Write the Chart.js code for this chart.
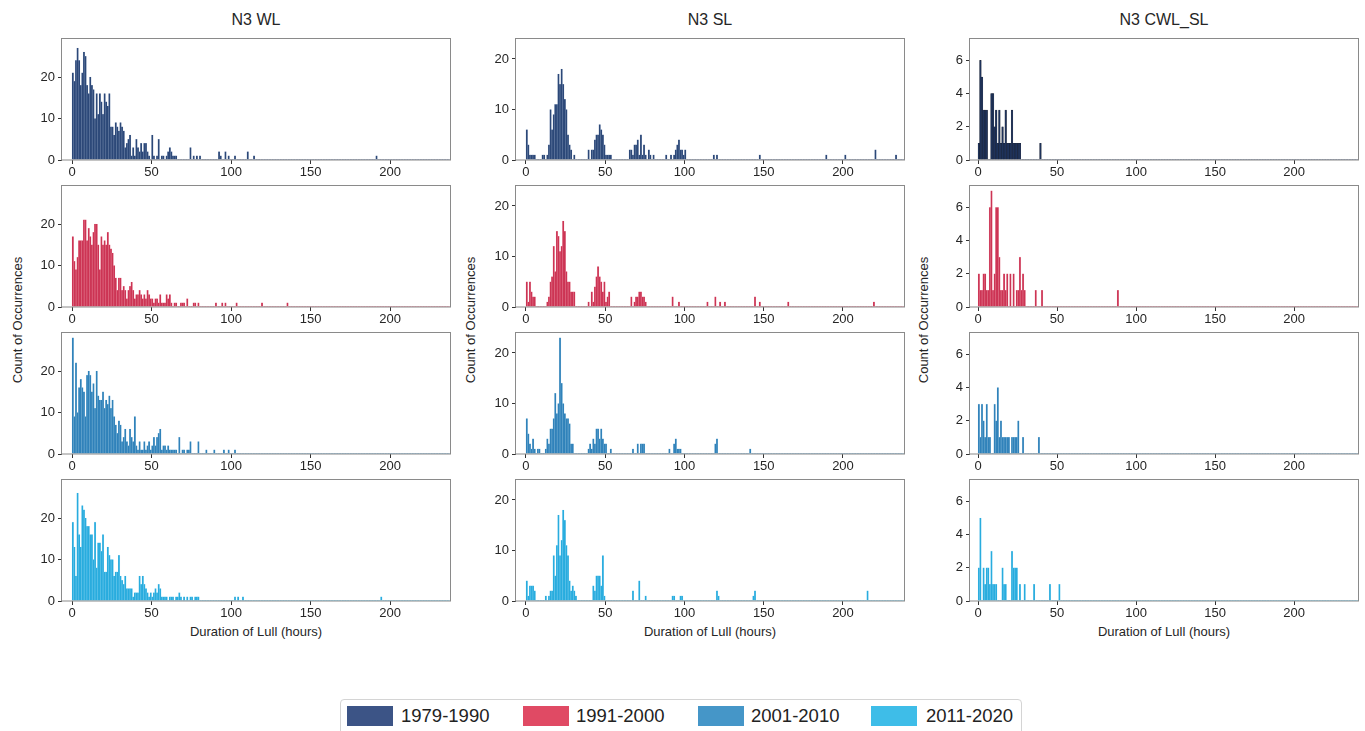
<!DOCTYPE html>
<html lang="en">
<head>
<meta charset="UTF-8">
<title>Lull durations N3</title>
<script src="https://cdn.jsdelivr.net/npm/chart.js@4"></script>
<style>
  body { margin: 0; background: #fff; font-family: "Liberation Sans", Arial, sans-serif; color: #262626; }
  #fig { position: relative; width: 1365px; height: 731px; overflow: hidden; }
  #fig canvas { position: absolute; }
  .title { position: absolute; top: 11px; width: 388px; text-align: center; font-size: 16px; }
  .xlabel { position: absolute; top: 624px; width: 388px; text-align: center; font-size: 13px; }
  .ylabel { position: absolute; top: 320px; font-size: 13px; white-space: nowrap; transform: translate(-50%, -50%) rotate(-90deg); }
  #legend { position: absolute; left: 340px; top: 699px; width: 682px; height: 44px; border: 1px solid #d4d4d4; border-radius: 4px; box-sizing: border-box; }
  #legend .sw { position: absolute; top: 6px; width: 46px; height: 20px; }
  #legend .lb { position: absolute; top: 5px; font-size: 18.5px; color: #222; }
</style>
</head>
<body>
<div id="fig">
  <div class="title" style="left:62px">N3 WL</div>
  <div class="title" style="left:516px">N3 SL</div>
  <div class="title" style="left:970px">N3 CWL_SL</div>
  <div class="ylabel" style="left:17px">Count of Occurrences</div>
  <div class="ylabel" style="left:470px">Count of Occurrences</div>
  <div class="ylabel" style="left:923px">Count of Occurrences</div>
  <div class="xlabel" style="left:62px">Duration of Lull (hours)</div>
  <div class="xlabel" style="left:516px">Duration of Lull (hours)</div>
  <div class="xlabel" style="left:970px">Duration of Lull (hours)</div>
  <div id="legend"></div>
</div>
<script>
// counts per 1-hour bin, starting at hour 0; tails are [hour, count]
const periods = ['1979-1990', '1991-2000', '2001-2010', '2011-2020'];

const wl1979 = [21,19,24,27,24,18,21,26,25,18, 16,20,18,17,10,16,11,16,14,11, 16,14,13,16,8,8,6,9,8,7,
  9,8,7,3,4,5,6,1,3,1, 5,3,2,4,2,4,4,2,1,0, 6,1,0,1,5,0,1,1,0,1, 2,3,2,1,1,1];
const wl1979Tail = [[74,3],[76,1],[78,1],[80,1],[92,2],[93,1],[96,2],[98,1],[102,1],[110,2],[114,1],[191,1]];
const wl1991 = [17,11,9,12,16,16,16,21,21,16, 19,17,15,18,20,20,15,9,17,15, 16,15,18,15,14,13,10,7,4,7,
  7,4,5,4,2,4,5,6,4,2, 3,3,4,3,2,3,2,4,3,2, 2,1,2,2,1,3,1,1,1,3, 2,3,1,0,1,1];
const wl1991Tail = [[68,1],[69,1],[70,1],[72,2],[76,1],[77,1],[79,1],[90,1],[94,1],[96,1],[103,1],[119,1],[135,1]];
const wl2001 = [28,9,22,10,16,18,16,15,9,19, 20,19,15,17,11,20,14,13,13,15, 11,13,12,14,11,13,9,7,5,8,
  7,3,4,6,3,2,6,4,3,9, 2,1,3,1,1,3,1,2,3,1, 2,4,2,4,5,6,1,2,2,1, 2,1,1,1,1,1];
const wl2001Tail = [[67,4],[69,1],[70,1],[72,1],[73,1],[74,3],[79,3],[84,1],[89,1],[95,1],[98,1],[102,1]];
const wl2011 = [19,13,6,26,16,13,23,22,20,18, 18,16,16,10,19,8,14,14,12,16, 7,7,13,11,10,10,6,7,7,11,
  6,5,4,6,3,3,3,3,1,2, 2,2,6,4,6,4,3,2,1,2, 1,2,3,2,4,3,1,1,1,1, 0,1,1,1,0,1,1,2,1,0, 1];
const wl2011Tail = [[72,1],[74,1],[75,1],[77,1],[78,1],[79,1],[102,1],[104,1],[107,1],[194,1]];

const sl1979 = [6,3,1,1,1,1,0,0,0,0, 1,1,0,1,3,10,6,9,11,11, 17,15,18,15,12,10,5,3,2,0,
  1,0,0,0,0,0,0,0,0,2, 0,2,2,4,5,5,7,6,5,3, 1,1,1,1];
const sl1979Tail = [[65,2],[66,2],[67,1],[68,3],[69,3],[70,4],[71,1],[72,5],[73,1],[74,3],[75,1],[77,2],[78,1],[80,1],
  [88,1],[91,1],[93,1],[94,2],[95,3],[96,4],[97,2],[98,2],[99,1],[100,2],[118,1],[120,1],[147,1],[189,1],[201,1],[220,2],[233,1]];
const sl1991 = [5,1,5,3,2,2,0,0,0,0, 0,0,0,1,2,5,6,12,7,15, 14,11,12,17,15,7,5,5,3,3,
  3,0,0,0,0,0,0,0,0,1, 0,3,1,4,6,8,6,5,3,5, 1,2,3];
const sl1991Tail = [[66,2],[68,1],[69,2],[70,2],[71,3],[72,3],[73,2],[74,2],[75,1],[92,2],[96,1],[114,1],[119,2],
  [122,1],[125,1],[144,2],[147,1],[165,1],[219,1]];
const sl2001 = [7,4,2,1,3,1,0,1,1,0, 0,0,1,3,2,5,5,7,12,8, 10,23,14,10,8,7,7,6,2,2,
  0,0,0,0,0,0,0,0,0,1, 2,1,3,2,5,5,3,5,3,2, 2,0,0,1];
const sl2001Tail = [[67,1],[70,2],[72,2],[73,2],[74,2],[90,1],[93,2],[94,3],[95,1],[96,1],[97,1],[119,2],[120,3],[141,1]];
const sl2011 = [4,1,3,3,3,2,0,0,0,0, 0,0,1,0,1,2,2,9,5,11, 17,9,12,18,16,11,9,4,2,3,
  2,1,0,0,0,0,0,0,0,0, 0,0,3,2,5,5,5,3,9,1];
const sl2011Tail = [[67,2],[71,4],[75,1],[92,1],[93,1],[97,1],[98,1],[120,2],[121,1],[143,1],[144,2],[215,2]];

const cwl1979 = [1,6,5,3,3,3,0,0,4,4, 2,3,1,3,1,2,1,3,1,1, 1,3,1,1,1,1,1];
const cwl1979Tail = [[39,1]];
const cwl1991 = [2,1,1,2,2,1,1,6,7,1, 2,6,6,3,1,1,2,1,2,0, 2,0,2,0,1,1,3,1,2,1];
const cwl1991Tail = [[36,1],[40,1],[88,1]];
const cwl2001 = [3,1,3,2,1,3,1,1,0,0, 3,2,4,1,2,1,1,1,1,1, 0,1,1,1,1,2,0,0,1];
const cwl2001Tail = [[38,1]];
const cwl2011 = [2,5,0,2,1,2,2,1,3,1, 1,1,0,0,0,2,1,1,0,0, 0,3,2,2,2,0,1,0,0,1];
const cwl2011Tail = [[35,1],[45,1],[51,1]];

const barColors = ['rgb(44,72,120)', 'rgb(204,52,84)', 'rgb(48,130,186)', 'rgb(40,172,222)'];
const edgeColors = ['rgba(110,135,175,0.6)', 'rgba(235,130,150,0.6)', 'rgba(120,180,215,0.6)', 'rgba(120,205,240,0.6)'];
const legendColors = ['#3c5486', '#e04a64', '#4596c8', '#3ebde8'];

const columns = [
  { left: 62, xMin: -6.3, xMax: 237.7, yMax: 29.4, yStep: 10,
    series: [[wl1979, wl1979Tail], [wl1991, wl1991Tail], [wl2001, wl2001Tail], [wl2011, wl2011Tail]] },
  { left: 516, xMin: -6.3, xMax: 238.5, yMax: 24.15, yStep: 10,
    series: [[sl1979, sl1979Tail], [sl1991, sl1991Tail], [sl2001, sl2001Tail], [sl2011, sl2011Tail]] },
  { left: 970, xMin: -5.1, xMax: 240.5, yMax: 7.35, yStep: 2,
    series: [[cwl1979, cwl1979Tail], [cwl1991, cwl1991Tail], [cwl2001, cwl2001Tail], [cwl2011, cwl2011Tail]] }
];
const rowTops = [38, 185, 332, 479];
const PW = 388, PH = 122, PADL = 45, PADT = 14, PADR = 12, PADB = 26;

function bins(dense, tail) {
  const counts = new Array(241).fill(0);
  dense.forEach((c, i) => { counts[i] = c; });
  tail.forEach(([h, c]) => { counts[h] = c; });
  return counts.map((c, h) => ({ x: h + 0.5, y: c }));
}

const frame = {
  id: 'frame',
  afterDraw(chart) {
    const a = chart.chartArea, ctx = chart.ctx;
    ctx.save();
    ctx.strokeStyle = '#8a8a8a';
    ctx.lineWidth = 1;
    ctx.strokeRect(Math.round(a.left) - 0.5, Math.round(a.top) + 0.5, Math.round(a.right - a.left) + 1, Math.round(a.bottom - a.top) - 0.5);
    ctx.restore();
  }
};

const fig = document.getElementById('fig');
const tickFont = { family: '"Liberation Sans", Arial, sans-serif', size: 13 };

columns.forEach((col, ci) => {
  col.series.forEach(([dense, tail], ri) => {
    const cv = document.createElement('canvas');
    cv.width = PW + PADL + PADR;
    cv.height = PH + PADT + PADB;
    cv.style.left = (col.left - PADL) + 'px';
    cv.style.top = (rowTops[ri] - PADT) + 'px';
    fig.appendChild(cv);

    const dark = ci === 2 && ri === 0;
    new Chart(cv, {
      type: 'bar',
      data: {
        datasets: [{
          label: periods[ri],
          data: bins(dense, tail),
          backgroundColor: dark ? 'rgb(30,50,90)' : barColors[ri],
          borderColor: dark ? 'rgba(10,14,25,0.9)' : edgeColors[ri],
          borderWidth: ctx => (ctx.raw && ctx.raw.y > 0) ? 0.3 : 0,
          barPercentage: 1,
          categoryPercentage: 1
        }]
      },
      options: {
        responsive: false,
        animation: false,
        devicePixelRatio: 1,
        layout: { padding: { left: 0, top: PADT, right: PADR, bottom: 0 } },
        plugins: { legend: { display: false }, tooltip: { enabled: false } },
        scales: {
          x: {
            type: 'linear',
            min: col.xMin, max: col.xMax,
            offset: false,
            grid: { display: true, drawOnChartArea: false, drawTicks: true, tickLength: 4, color: '#333', offset: false },
            border: { display: false },
            ticks: { stepSize: 50, includeBounds: false, color: '#262626', font: tickFont, padding: 1, maxRotation: 0 },
            afterFit: s => { s.height = PADB; }
          },
          y: {
            min: 0, max: col.yMax,
            grid: { display: true, drawOnChartArea: false, drawTicks: true, tickLength: 4, color: '#333' },
            border: { display: false },
            ticks: { stepSize: col.yStep, includeBounds: false, color: '#262626', font: tickFont, padding: 3 },
            afterFit: s => { s.width = PADL; }
          }
        }
      },
      plugins: [frame]
    });
  });
});

const legend = document.getElementById('legend');
const swLeft = [6, 182, 357, 530], lbLeft = [60, 235, 410, 585];
periods.forEach((p, i) => {
  const sw = document.createElement('div');
  sw.className = 'sw';
  sw.style.left = swLeft[i] + 'px';
  sw.style.background = legendColors[i];
  legend.appendChild(sw);
  const lb = document.createElement('div');
  lb.className = 'lb';
  lb.style.left = lbLeft[i] + 'px';
  lb.textContent = p;
  legend.appendChild(lb);
});
</script>
</body>
</html>
